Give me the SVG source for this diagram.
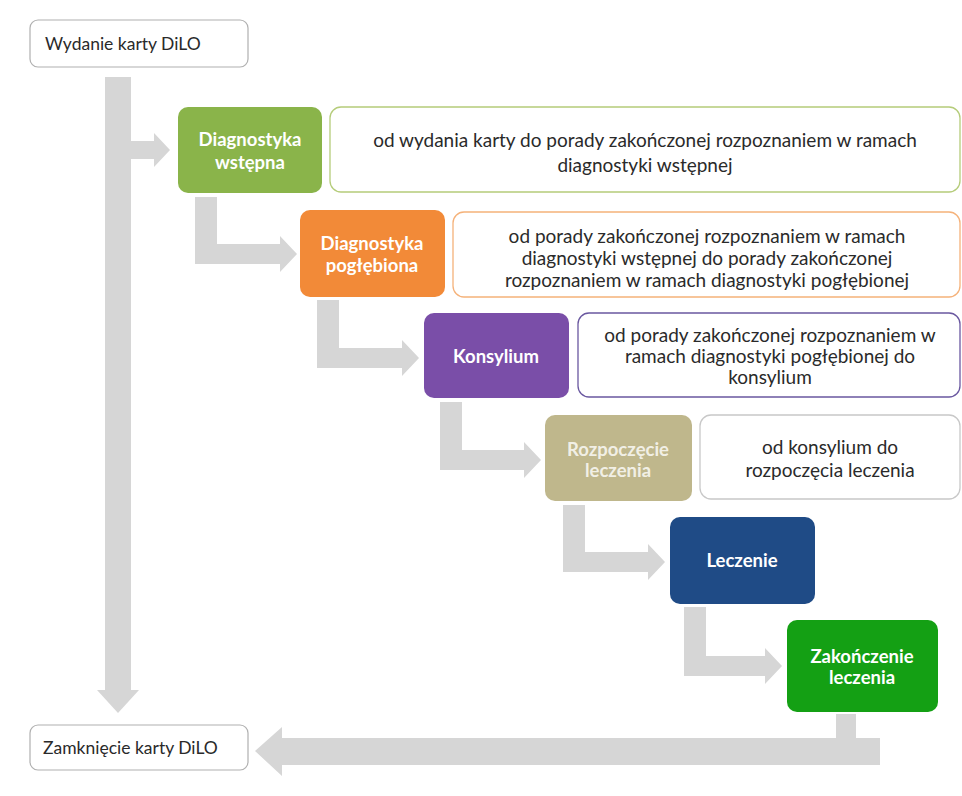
<svg xmlns="http://www.w3.org/2000/svg" width="962" height="796" viewBox="0 0 962 796">
<style>
.end{fill:#fff;stroke:#b0b0b0;stroke-width:1.2}
.desc{fill:#fff;stroke-width:1.3}
.t{font-family:Lato,"Open Sans","Liberation Sans",sans-serif;font-size:19px;fill:#2a2a2a;text-anchor:middle}
.s{font-family:Lato,"Open Sans","Liberation Sans",sans-serif;font-size:17.5px;fill:#2a2a2a}
.w{font-family:Lato,"Open Sans","Liberation Sans",sans-serif;font-size:18.5px;font-weight:bold;fill:#fff;text-anchor:middle}
.arr{fill:#d6d6d6}
</style>
<rect width="962" height="796" fill="#fff"/>
<g id="connectors">
<path class="arr" d="M105 77 H131 V690 H139 L118 713 L97 690 H105 Z"/>
<path class="arr" d="M131 141 H154 V133 L170 150 L154 167 V159 H131 Z"/>
<path class="arr" d="M195 197 H217 V244 H280 V236 L297 254 L280 272 V264 H195 Z"/>
<path class="arr" d="M317 300 H339 V348 H402 V340 L419 358 L402 376 V368 H317 Z"/>
<path class="arr" d="M440 402 H462 V450 H524 V442 L541 460 L524 478 V470 H440 Z"/>
<path class="arr" d="M563 505 H585 V552 H648 V544 L665 562 L648 580 V572 H563 Z"/>
<path class="arr" d="M684 607 H706 V656 H765 V648 L782 666 L765 684 V676 H684 Z"/>
<path class="arr" d="M836 714 H856 V738 H880 V765 H282 V776 L255 751 L282 727 V738 H836 Z"/>
</g>
<g id="start">
<rect class="end" x="30" y="20" width="218" height="47" rx="8"/>
<text class="s" x="45" y="50">Wydanie karty DiLO</text>
</g>
<g id="end">
<rect class="end" x="30" y="725" width="218" height="45" rx="8"/>
<text class="s" x="43" y="754" font-size="17">Zamknięcie karty DiLO</text>
</g>
<g id="n1">
<rect x="178" y="107" width="144" height="86" rx="10" fill="#8ab44a"/>
<text class="w" x="250" y="146">Diagnostyka</text>
<text class="w" x="250" y="169">wstępna</text>
</g>
<g id="d1">
<rect class="desc" x="330" y="107" width="630" height="85" rx="11" stroke="#b5cc7a"/>
<text class="t" x="645" y="147">od wydania karty do porady zakończonej rozpoznaniem w ramach</text>
<text class="t" x="645" y="172">diagnostyki wstępnej</text>
</g>
<g id="n2">
<rect x="300" y="210" width="145" height="87" rx="10" fill="#f28a38"/>
<text class="w" x="372" y="250">Diagnostyka</text>
<text class="w" x="372" y="272">pogłębiona</text>
</g>
<g id="d2">
<rect class="desc" x="453" y="212" width="507" height="85" rx="11" stroke="#f5b27a"/>
<text class="t" x="707" y="243">od porady zakończonej rozpoznaniem w ramach</text>
<text class="t" x="707" y="265">diagnostyki wstępnej do porady zakończonej</text>
<text class="t" x="707" y="287">rozpoznaniem w ramach diagnostyki pogłębionej</text>
</g>
<g id="n3">
<rect x="424" y="313" width="145" height="85" rx="10" fill="#7a4ea8"/>
<text class="w" x="496" y="363">Konsylium</text>
</g>
<g id="d3">
<rect class="desc" x="578" y="313" width="382" height="84" rx="11" stroke="#6a58a0"/>
<text class="t" x="770" y="342">od porady zakończonej rozpoznaniem w</text>
<text class="t" x="770" y="363">ramach diagnostyki pogłębionej do</text>
<text class="t" x="770" y="384">konsylium</text>
</g>
<g id="n4">
<rect x="545" y="415" width="147" height="86" rx="10" fill="#bfb78c"/>
<text class="w" x="618" y="456" fill-opacity="0.8">Rozpoczęcie</text>
<text class="w" x="618" y="477" fill-opacity="0.8">leczenia</text>
</g>
<g id="d4">
<rect class="desc" x="700" y="415" width="260" height="84" rx="11" stroke="#c8c8c8"/>
<text class="t" x="830" y="454">od konsylium do</text>
<text class="t" x="830" y="477">rozpoczęcia leczenia</text>
</g>
<g id="n5">
<rect x="670" y="517" width="145" height="87" rx="10" fill="#1f4b86"/>
<text class="w" x="742" y="567">Leczenie</text>
</g>
<g id="n6">
<rect x="787" y="620" width="151" height="92" rx="10" fill="#14a014"/>
<text class="w" x="862" y="663">Zakończenie</text>
<text class="w" x="862" y="684">leczenia</text>
</g>
</svg>
